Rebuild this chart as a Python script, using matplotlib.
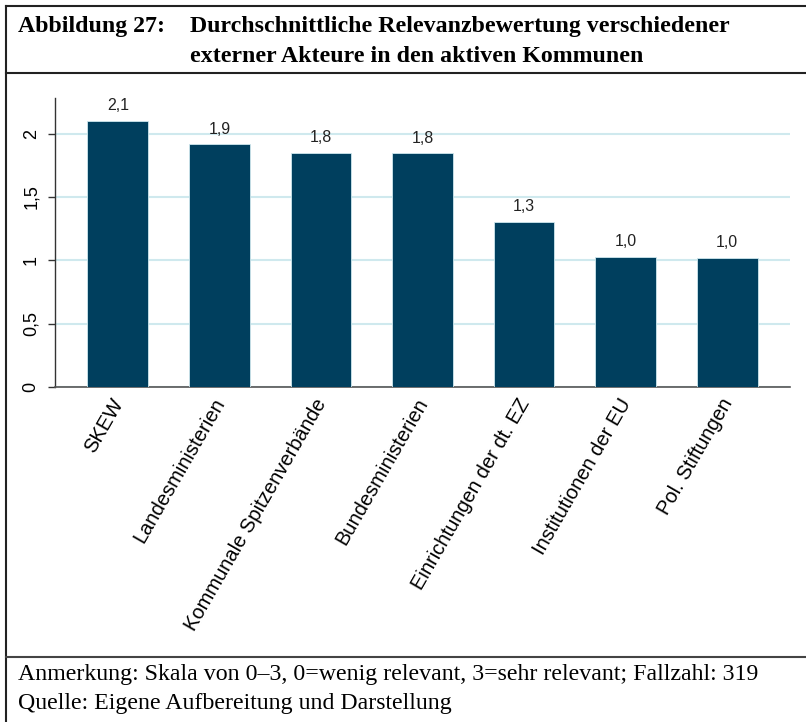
import matplotlib
matplotlib.use("Agg")
import matplotlib.pyplot as plt
from matplotlib.lines import Line2D
from matplotlib.transforms import ScaledTranslation

categories = ["SKEW", "Landesministerien", "Kommunale Spitzenverbände",
              "Bundesministerien", "Einrichtungen der dt. EZ",
              "Institutionen der EU", "Pol. Stiftungen"]
values = [2.10, 1.915, 1.85, 1.845, 1.305, 1.028, 1.02]
value_labels = ["2,1", "1,9", "1,8", "1,8", "1,3", "1,0", "1,0"]
yticks = [0, 0.5, 1, 1.5, 2]
ytick_labels = ["0", "0,5", "1", "1,5", "2"]

W, H = 806, 722
fig = plt.figure(figsize=(W / 100, H / 100), dpi=100)

def fx(px):
    return px / W

def fy(py):
    return 1 - py / H

# Frame lines
lc = "#222222"
fig.add_artist(Line2D([fx(6), fx(6)], [fy(6), fy(722)], color=lc, lw=1.5, transform=fig.transFigure))
fig.add_artist(Line2D([fx(6), fx(806)], [fy(6), fy(6)], color=lc, lw=1.5, transform=fig.transFigure))
fig.add_artist(Line2D([fx(6), fx(806)], [fy(73), fy(73)], color=lc, lw=1.5, transform=fig.transFigure))
fig.add_artist(Line2D([fx(6), fx(806)], [fy(657), fy(657)], color="#444444", lw=1.5, transform=fig.transFigure))

serif = "Liberation Serif"
fig.text(fx(18), fy(32), "Abbildung 27:", family=serif, weight="bold", fontsize=17.2, va="baseline", ha="left")
fig.text(fx(190), fy(32), "Durchschnittliche Relevanzbewertung verschiedener", family=serif, weight="bold",
         fontsize=17.2, va="baseline", ha="left")
fig.text(fx(190), fy(62), "externer Akteure in den aktiven Kommunen", family=serif, weight="bold",
         fontsize=17.2, va="baseline", ha="left")

fig.text(fx(18), fy(680), "Anmerkung: Skala von 0\u20133, 0=wenig relevant, 3=sehr relevant; Fallzahl: 319",
         family=serif, fontsize=17.2, va="baseline", ha="left")
fig.text(fx(18), fy(709), "Quelle: Eigene Aufbereitung und Darstellung",
         family=serif, fontsize=17.2, va="baseline", ha="left")

# Axes: x from 55 to 790, y0 at 387, 126.7 px per unit
ax_left, ax_right = 55, 790
y0 = 387
ppu = 126.7
ymax = 2.28
ax_top = y0 - ymax * ppu
ax = fig.add_axes([fx(ax_left), fy(y0), fx(ax_right - ax_left), (y0 - ax_top) / H])

x = list(range(len(categories)))
ax.bar(x, values, width=0.6, color="#003f5e", edgecolor="#cfe8ee", linewidth=0.6, zorder=3)
for xi, v, lab in zip(x, values, value_labels):
    ax.text(xi, v + 0.06, lab, ha="center", va="bottom", fontsize=11.5,
            family="Liberation Sans", color="#222222")

ax.set_xlim(-0.62, len(categories) - 1 + 0.62)
ax.set_ylim(0, ymax)
ax.set_yticks(yticks)
ax.set_yticklabels(ytick_labels, rotation=90, va="center", family="Liberation Sans", fontsize=13)
ax.set_xticks(x)
ax.set_xticklabels([])
offset = ScaledTranslation(-7 / 100, -8 / 100, fig.dpi_scale_trans)
lbl_trans = ax.get_xaxis_transform() + offset
for xi, cat in zip(x, categories):
    ax.text(xi, 0, cat, rotation=60, ha="right", va="top", rotation_mode="anchor",
            family="Liberation Sans", fontsize=14.5, transform=lbl_trans, clip_on=False)
ax.tick_params(axis="x", length=0)
ax.tick_params(axis="y", length=5, width=1, color="#333333", pad=6)
ax.yaxis.grid(True, color="#cfe9ee", lw=1.5, zorder=0)
ax.set_axisbelow(True)
for s in ["top", "right"]:
    ax.spines[s].set_visible(False)
ax.spines["left"].set_color("#333333")
ax.spines["bottom"].set_color("#555555")
ax.spines["left"].set_linewidth(1)
ax.spines["bottom"].set_linewidth(1.2)

fig.savefig("out.png", dpi=100)
